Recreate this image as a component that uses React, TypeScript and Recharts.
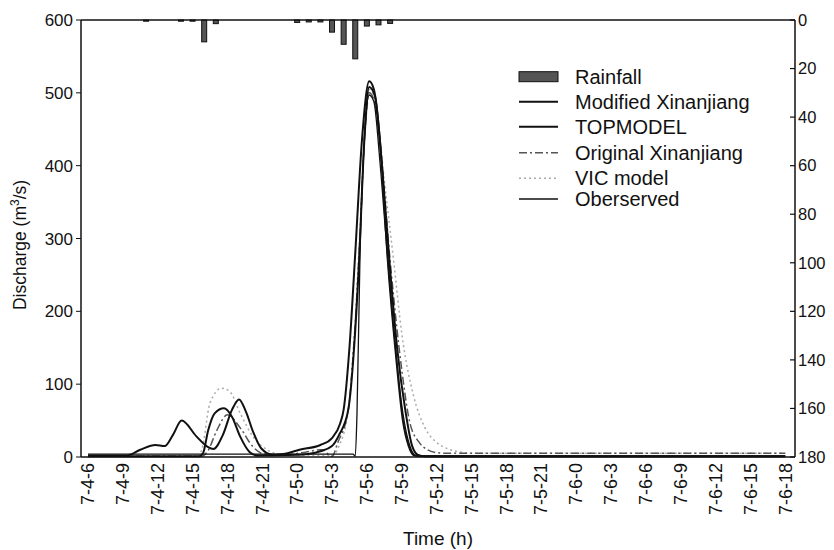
import React from 'react';
import { ComposedChart, Bar, Line, XAxis, YAxis, ReferenceLine } from 'recharts';

// hours since 7-4-6
const timeTicks = [0, 3, 6, 9, 12, 15, 18, 21, 24, 27, 30, 33, 36, 39, 42, 45, 48, 51, 54, 57, 60];
const timeLabels = ['7-4-6', '7-4-9', '7-4-12', '7-4-15', '7-4-18', '7-4-21', '7-5-0', '7-5-3', '7-5-6', '7-5-9', '7-5-12', '7-5-15', '7-5-18', '7-5-21', '7-6-0', '7-6-3', '7-6-6', '7-6-9', '7-6-12', '7-6-15', '7-6-18'];
const dischargeTicks = [0, 100, 200, 300, 400, 500, 600];
const rainTicks = [0, 20, 40, 60, 80, 100, 120, 140, 160, 180];

const rainHours = [5, 8, 9, 10, 11, 18, 19, 20, 21, 22, 23, 24, 25, 26];
const rainValues = [0.5, 0.5, 0.5, 9, 1.5, 1, 0.8, 0.8, 5, 10, 16, 2.5, 2, 1.4];

const modifiedT = [0, 9.6, 9.9, 10.35, 10.9, 11.7, 12.4, 13.1, 13.9, 14.6, 18, 20, 21, 21.6, 22.4, 22.9, 23.3, 23.8, 24.2, 24.7, 25.3, 26, 26.6, 27.3, 27.9, 28.4, 29, 60];
const modifiedQ = [1, 1, 5, 37, 60, 67, 55, 28, 7, 2, 3, 8, 15, 30, 65, 150, 260, 440, 508, 495, 400, 257, 150, 65, 15, 3, 1, 1];

const topmodelT = [0, 3.3, 4.5, 5.8, 6.6, 7.3, 8.06, 9.35, 10.3, 10.8, 11.6, 12.4, 13.0, 13.6, 14.2, 14.9, 15.9, 16.8, 18.2, 20, 21, 21.7, 22.0, 22.5, 23.0, 23.6, 24.2, 24.6, 25.2, 25.8, 26.5, 27.1, 27.6, 28.1, 29, 60];
const topmodelQ = [2, 2, 10, 16.5, 15, 30, 50, 28, 14, 11, 30, 65, 79, 62, 35, 12, 3, 4, 10, 16.5, 26, 46, 65, 150, 280, 440, 516, 505, 420, 270, 140, 50, 15, 2, 1, 1];

const originalT = [0, 9.8, 10.3, 11.1, 12, 13.1, 14.2, 15.2, 17, 18.8, 20.1, 21, 21.5, 22.4, 22.9, 23.4, 23.8, 24.2, 24.7, 25.3, 26, 27, 27.7, 28.5, 29.2, 30, 31, 60];
const originalQ = [1, 1, 8, 37, 58, 40, 14, 4, 3, 7, 10, 1, 20, 65, 160, 300, 440, 500, 485, 400, 270, 120, 47, 20, 10, 6, 5, 5];

const vicT = [0, 9.4, 9.8, 10.5, 11.5, 12.2, 13.1, 14.2, 15.4, 16.5, 18, 21, 21.6, 22.4, 22.9, 23.4, 23.9, 24.3, 24.8, 25.5, 26.3, 27, 28, 29, 30, 31, 32, 33, 60];
const vicQ = [1, 1, 10, 74, 94.5, 90, 60, 28, 10, 4, 3, 2, 15, 65, 160, 310, 460, 505, 480, 380, 270, 170, 85, 40, 20, 11, 7, 5, 5];

const observedT = [0, 22.8, 23.0, 23.15, 23.4, 23.8, 24.2, 24.6, 25.1, 25.7, 26.4, 27.1, 27.7, 28.2, 28.8, 60];
const observedQ = [4, 4, 1, 60, 270, 440, 497, 488, 410, 290, 160, 60, 15, 2, 1, 1];

const toPoints = (t: number[], q: number[]) => t.map((h, i) => ({ t: h, v: q[i] }));
const rainData = rainHours.map((h, i) => ({ t: h, rain: rainValues[i] }));

const FONT = '"Liberation Sans", Arial, Helvetica, sans-serif';
const INK = '#111';
const BAR_W = 5;

const XTick = (props: any) => {
  const { x, y, payload } = props;
  const idx = timeTicks.indexOf(payload.value);
  return (
    <text x={x} y={y} transform={`rotate(-90, ${x}, ${y})`} textAnchor="end" dy="0.35em" fontSize={18} fill={INK} fontFamily={FONT}>
      {timeLabels[idx]}
    </text>
  );
};

const RTick = (props: any) => {
  const { x, y, payload } = props;
  return (
    <g>
      <line x1={x - 2} x2={x - 7} y1={y} y2={y} stroke={INK} strokeWidth={1.2} />
      <text x={x + 1} y={y} dy="0.35em" textAnchor="start" fontSize={16.5} fill={INK} fontFamily={FONT}>
        {payload.value}
      </text>
    </g>
  );
};

const RainShape = (props: any) => {
  const { x, y, width, height } = props;
  const cx = x + width / 2;
  const top = Math.min(y, y + height);
  const h = Math.max(Math.abs(height), 1);
  return <rect x={cx - BAR_W / 2} y={top} width={BAR_W} height={h} fill="#555" stroke={INK} strokeWidth={1} />;
};

const YLabel = () => (
  <text x={12} y={237} transform="rotate(-90, 12, 237)" textAnchor="middle" dy="0.35em" fontSize={17.5} fill={INK} fontFamily={FONT}>
    Discharge (m<tspan dy={-7} fontSize={12}>3</tspan><tspan dy={7}>/s)</tspan>
  </text>
);

const legendItems = [
  { name: 'Rainfall', kind: 'bar', stroke: INK, dash: undefined as string | undefined, width: 0, y: 8.7 },
  { name: 'Modified Xinanjiang', kind: 'line', stroke: INK, dash: undefined, width: 2, y: 33.7 },
  { name: 'TOPMODEL', kind: 'line', stroke: INK, dash: undefined, width: 2, y: 58.7 },
  { name: 'Original Xinanjiang', kind: 'line', stroke: '#555', dash: '8 3 2 3', width: 1.5, y: 84.7 },
  { name: 'VIC model', kind: 'line', stroke: '#aaa', dash: '2 3', width: 1.5, y: 110.3 },
  { name: 'Oberserved', kind: 'line', stroke: INK, dash: undefined, width: 1.3, y: 131 },
];

const LegendBox = () => (
  <svg width={280} height={150} style={{ display: 'block', overflow: 'visible' }}>
    {legendItems.map((it) => (
      <g key={it.name}>
        {it.kind === 'bar' ? (
          <rect x={1} y={it.y - 5} width={39} height={10} fill="#555" stroke={INK} strokeWidth={1} />
        ) : (
          <line x1={1} x2={40} y1={it.y} y2={it.y} stroke={it.stroke} strokeWidth={it.width} strokeDasharray={it.dash} />
        )}
        <text x={57} y={it.y} dy="0.35em" fontSize={20} fill={INK} fontFamily={FONT}>
          {it.name}
        </text>
      </g>
    ))}
  </svg>
);

export default function App() {
  return (
    <div style={{ width: 826, height: 542, fontFamily: FONT, position: 'relative' }}>
      <ComposedChart width={826} height={542} data={rainData} margin={{ top: 12, right: 0, bottom: 8, left: 13 }}>
        <XAxis
          dataKey="t"
          type="number"
          domain={[-0.6, 60.84]}
          allowDataOverflow
          ticks={timeTicks}
          interval={0}
          tick={<XTick />}
          tickLine={false}
          tickSize={0}
          tickMargin={6}
          height={85}
          axisLine={{ stroke: INK, strokeWidth: 1.5 }}
          label={{ value: 'Time (h)', position: 'insideBottom', offset: -3, fontSize: 19, fill: INK }}
        />
        <YAxis
          yAxisId="left"
          type="number"
          domain={[0, 600]}
          ticks={dischargeTicks}
          interval={0}
          width={60}
          tickSize={5}
          tickMargin={3}
          tick={{ fontSize: 17, fill: INK }}
          tickLine={{ stroke: INK }}
          axisLine={{ stroke: INK, strokeWidth: 1.5 }}
          label={<YLabel />}
        />
        <YAxis
          yAxisId="right"
          orientation="right"
          type="number"
          reversed
          domain={[0, 180]}
          ticks={rainTicks}
          interval={0}
          width={39}
          tickSize={0}
          tickMargin={2}
          tickLine={false}
          tick={<RTick />}
          axisLine={{ stroke: INK, strokeWidth: 1.5 }}
        />
        <ReferenceLine yAxisId="left" y={600} stroke={INK} strokeWidth={1.5} />
        <Bar yAxisId="right" dataKey="rain" shape={<RainShape />} isAnimationActive={false} />
        <Line yAxisId="left" data={toPoints(vicT, vicQ)} dataKey="v" type="monotone" stroke="#aaa" strokeWidth={1.5} strokeDasharray="2 3" dot={false} isAnimationActive={false} />
        <Line yAxisId="left" data={toPoints(originalT, originalQ)} dataKey="v" type="monotone" stroke="#555" strokeWidth={1.5} strokeDasharray="8 3 2 3" dot={false} isAnimationActive={false} />
        <Line yAxisId="left" data={toPoints(observedT, observedQ)} dataKey="v" type="monotone" stroke={INK} strokeWidth={1.3} dot={false} isAnimationActive={false} />
        <Line yAxisId="left" data={toPoints(modifiedT, modifiedQ)} dataKey="v" type="monotone" stroke={INK} strokeWidth={2} dot={false} isAnimationActive={false} />
        <Line yAxisId="left" data={toPoints(topmodelT, topmodelQ)} dataKey="v" type="monotone" stroke={INK} strokeWidth={2} dot={false} isAnimationActive={false} />
      </ComposedChart>
      <div style={{ position: 'absolute', left: 510, top: 60 }}>
        <LegendBox />
      </div>
    </div>
  );
}
